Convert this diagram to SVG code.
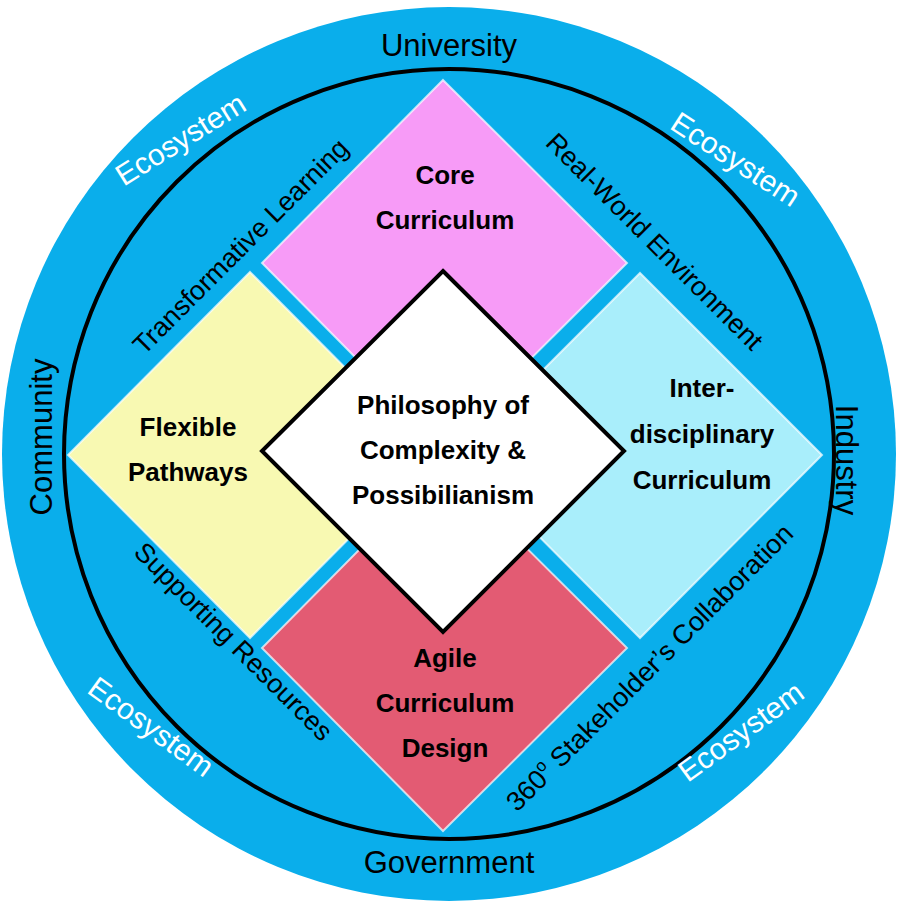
<svg xmlns="http://www.w3.org/2000/svg" width="898" height="908" viewBox="0 0 898 908">
<style>
.ring{font-family:"Liberation Sans",Arial,sans-serif;font-size:31px;fill:#000;text-anchor:middle}
.eco{font-family:"Liberation Sans",Arial,sans-serif;font-size:30px;fill:#fff;text-anchor:middle}
.edge{font-family:"Liberation Sans",Arial,sans-serif;font-size:27px;fill:#000;text-anchor:middle}
.lbl{font-family:"Liberation Sans",Arial,sans-serif;font-size:26px;font-weight:bold;fill:#000;text-anchor:middle}
.dia{stroke:#fff;stroke-width:2;stroke-opacity:0.7}
</style>
<g id="outer"><circle cx="449" cy="454" r="447" fill="#0AAEEB"/>
<circle cx="449" cy="454" r="385" fill="none" stroke="#000" stroke-width="4"/></g>
<g id="ringtext">
<text class="ring" x="449" y="56">University</text>
<text class="ring" x="449" y="873">Government</text>
<text class="ring" transform="translate(52,437) rotate(-90)">Community</text>
<text class="ring" transform="translate(836,460) rotate(90)">Industry</text>
<text class="eco" transform="translate(186,148) rotate(-32)">Ecosystem</text>
<text class="eco" transform="translate(730,168) rotate(33)">Ecosystem</text>
<text class="eco" transform="translate(145,735) rotate(36)">Ecosystem</text>
<text class="eco" transform="translate(747,740) rotate(-36)">Ecosystem</text>
</g>
<g id="core"><polygon class="dia" points="443,80 627,263 443,446 262,263" fill="#F79BF7"/>
<text class="lbl" x="445" y="184">Core</text><text class="lbl" x="445" y="229">Curriculum</text></g>
<g id="flex"><polygon class="dia" points="250,272 432,455 250,638 68,455" fill="#F8F9B2"/>
<text class="lbl" x="188" y="436">Flexible</text><text class="lbl" x="188" y="481">Pathways</text></g>
<g id="inter"><polygon class="dia" points="640,273 822,455 640,638 458,455" fill="#A9EEFB"/>
<text class="lbl" x="702" y="397">Inter-</text><text class="lbl" x="702" y="443">disciplinary</text><text class="lbl" x="702" y="489">Curriculum</text></g>
<g id="agile"><polygon class="dia" points="443,465 627,648 443,831 262,648" fill="#E35B73"/>
<text class="lbl" x="445" y="667">Agile</text><text class="lbl" x="445" y="712">Curriculum</text><text class="lbl" x="445" y="757">Design</text></g>
<g id="center"><polygon points="443,271 624,451 443,632 262,451" fill="#fff" stroke="#000" stroke-width="4"/>
<text class="lbl" x="443" y="414">Philosophy of</text><text class="lbl" x="443" y="459">Complexity &amp;</text><text class="lbl" x="443" y="504">Possibilianism</text></g>
<g id="edges">
<text class="edge" transform="translate(247,253) rotate(-45)">Transformative Learning</text>
<text class="edge" transform="translate(648,248) rotate(45)">Real-World Environment</text>
<text class="edge" transform="translate(227,648) rotate(45)">Supporting Resources</text>
<text class="edge" transform="translate(656,674) rotate(-45)">360<tspan font-size="17" dy="-11">o</tspan><tspan dy="11"> Stakeholder’s Collaboration</tspan></text>
</g>
</svg>
